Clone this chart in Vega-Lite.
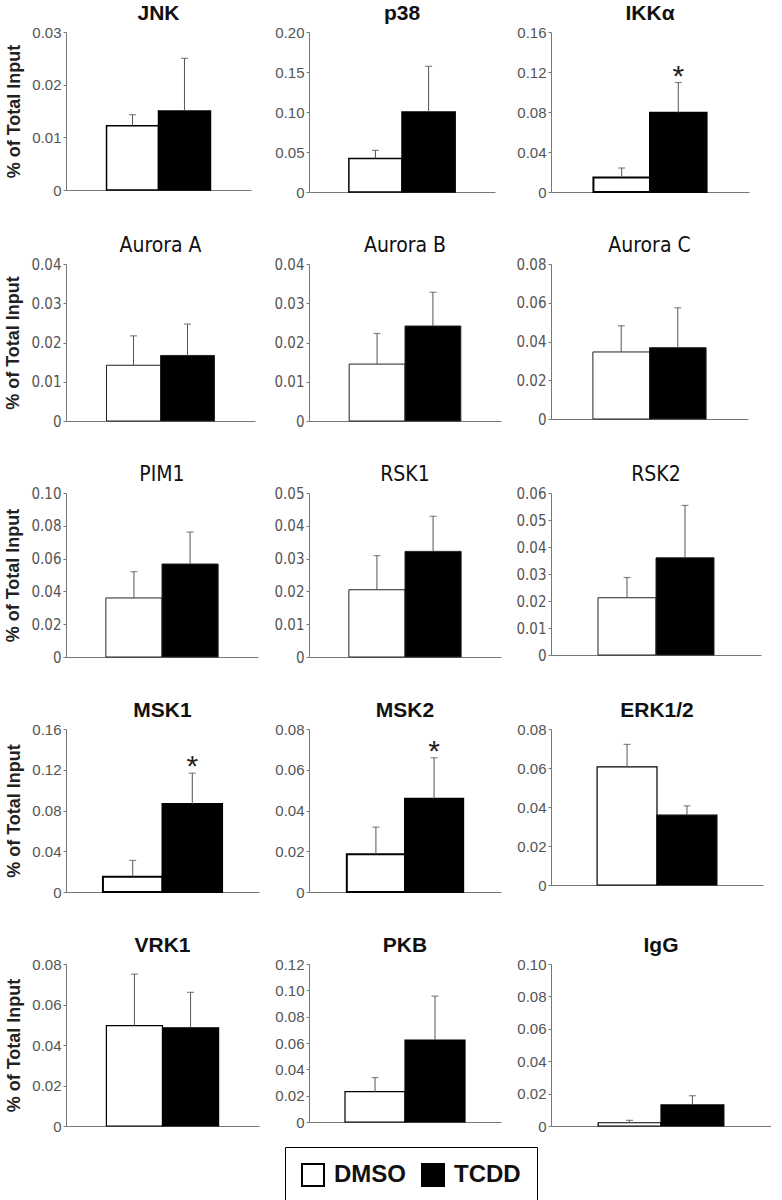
{
  "$schema": "https://vega.github.io/schema/vega-lite/v6.json",
  "background": "white",
  "padding": {"left": 4, "top": 3, "right": 0, "bottom": 0},
  "bounds": "flush",
  "columns": 3,
  "spacing": {"row": 72, "column": 50},
  "data": {"values": [
    {"panel": "JNK", "group": "DMSO", "value": 0.0122, "err": 0.0143, "sig": false},
    {"panel": "JNK", "group": "TCDD", "value": 0.0150, "err": 0.0250, "sig": false},
    {"panel": "p38", "group": "DMSO", "value": 0.042, "err": 0.052, "sig": false},
    {"panel": "p38", "group": "TCDD", "value": 0.100, "err": 0.157, "sig": false},
    {"panel": "IKKα", "group": "DMSO", "value": 0.0144, "err": 0.024, "sig": false},
    {"panel": "IKKα", "group": "TCDD", "value": 0.0793, "err": 0.1095, "sig": true},
    {"panel": "Aurora A", "group": "DMSO", "value": 0.0142, "err": 0.0217, "sig": false},
    {"panel": "Aurora A", "group": "TCDD", "value": 0.0167, "err": 0.0247, "sig": false},
    {"panel": "Aurora B", "group": "DMSO", "value": 0.0145, "err": 0.0223, "sig": false},
    {"panel": "Aurora B", "group": "TCDD", "value": 0.0242, "err": 0.0328, "sig": false},
    {"panel": "Aurora C", "group": "DMSO", "value": 0.0346, "err": 0.0481, "sig": false},
    {"panel": "Aurora C", "group": "TCDD", "value": 0.0368, "err": 0.0574, "sig": false},
    {"panel": "PIM1", "group": "DMSO", "value": 0.036, "err": 0.052, "sig": false},
    {"panel": "PIM1", "group": "TCDD", "value": 0.0567, "err": 0.0762, "sig": false},
    {"panel": "RSK1", "group": "DMSO", "value": 0.0205, "err": 0.0309, "sig": false},
    {"panel": "RSK1", "group": "TCDD", "value": 0.0322, "err": 0.0429, "sig": false},
    {"panel": "RSK2", "group": "DMSO", "value": 0.0212, "err": 0.0287, "sig": false},
    {"panel": "RSK2", "group": "TCDD", "value": 0.036, "err": 0.0554, "sig": false},
    {"panel": "MSK1", "group": "DMSO", "value": 0.015, "err": 0.031, "sig": false},
    {"panel": "MSK1", "group": "TCDD", "value": 0.0863, "err": 0.1167, "sig": true},
    {"panel": "MSK2", "group": "DMSO", "value": 0.0185, "err": 0.0318, "sig": false},
    {"panel": "MSK2", "group": "TCDD", "value": 0.0458, "err": 0.0659, "sig": true},
    {"panel": "ERK1/2", "group": "DMSO", "value": 0.0606, "err": 0.0721, "sig": false},
    {"panel": "ERK1/2", "group": "TCDD", "value": 0.0358, "err": 0.0406, "sig": false},
    {"panel": "VRK1", "group": "DMSO", "value": 0.0496, "err": 0.075, "sig": false},
    {"panel": "VRK1", "group": "TCDD", "value": 0.0485, "err": 0.066, "sig": false},
    {"panel": "PKB", "group": "DMSO", "value": 0.0231, "err": 0.0337, "sig": false},
    {"panel": "PKB", "group": "TCDD", "value": 0.0622, "err": 0.0956, "sig": false},
    {"panel": "IgG", "group": "DMSO", "value": 0.002, "err": 0.0035, "sig": false},
    {"panel": "IgG", "group": "TCDD", "value": 0.013, "err": 0.0187, "sig": false}
  ]},
  "concat": [
      {"title": "JNK", "width": 185, "height": 158, "transform": [{"filter": "datum.panel == 'JNK'"}],
       "encoding": {"x": {"field": "group", "type": "nominal", "scale": {"paddingOuter": 0.78, "paddingInner": 0}, "axis": {"labels": false, "ticks": false, "title": null}}},
       "layer": [
        {"mark": {"type": "bar", "stroke": "black", "strokeWidth": 1.5}, "encoding": {"y": {"field": "value", "type": "quantitative", "scale": {"domain": [0, 0.03], "nice": false}, "axis": {"values": [0, 0.01, 0.02, 0.03], "labelOverlap": false, "tickCount": 20, "title": "% of Total Input"}}, "fill": {"field": "group", "type": "nominal", "scale": {"domain": ["DMSO", "TCDD"], "range": ["white", "black"]}, "legend": {"title": null}}}},
        {"mark": {"type": "rule", "color": "#555"}, "encoding": {"y": {"field": "value", "type": "quantitative"}, "y2": {"field": "err"}}},
        {"mark": {"type": "tick", "color": "#555", "size": 7, "thickness": 1.2}, "encoding": {"y": {"field": "err", "type": "quantitative"}}}
       ]},
      {"title": "p38", "width": 186, "height": 160, "transform": [{"filter": "datum.panel == 'p38'"}],
       "encoding": {"x": {"field": "group", "type": "nominal", "scale": {"paddingOuter": 0.75, "paddingInner": 0}, "axis": {"labels": false, "ticks": false, "title": null}}},
       "layer": [
        {"mark": {"type": "bar", "stroke": "black", "strokeWidth": 1.5}, "encoding": {"y": {"field": "value", "type": "quantitative", "scale": {"domain": [0, 0.2], "nice": false}, "axis": {"values": [0, 0.05, 0.1, 0.15, 0.2], "labelOverlap": false, "tickCount": 20, "title": null}}, "fill": {"field": "group", "type": "nominal", "legend": {"title": null}}}},
        {"mark": {"type": "rule", "color": "#555"}, "encoding": {"y": {"field": "value", "type": "quantitative"}, "y2": {"field": "err"}}},
        {"mark": {"type": "tick", "color": "#555", "size": 7, "thickness": 1.2}, "encoding": {"y": {"field": "err", "type": "quantitative"}}}
       ]},
      {"title": "IKKα", "width": 198, "height": 160, "transform": [{"filter": "datum.panel == 'IKKα'"}],
       "encoding": {"x": {"field": "group", "type": "nominal", "scale": {"paddingOuter": 0.75, "paddingInner": 0}, "axis": {"labels": false, "ticks": false, "title": null}}},
       "layer": [
        {"mark": {"type": "bar", "stroke": "black", "strokeWidth": 2}, "encoding": {"y": {"field": "value", "type": "quantitative", "scale": {"domain": [0, 0.16], "nice": false}, "axis": {"values": [0, 0.04, 0.08, 0.12, 0.16], "labelOverlap": false, "tickCount": 20, "title": null}}, "fill": {"field": "group", "type": "nominal", "legend": {"title": null}}}},
        {"mark": {"type": "rule", "color": "#555"}, "encoding": {"y": {"field": "value", "type": "quantitative"}, "y2": {"field": "err"}}},
        {"mark": {"type": "tick", "color": "#555", "size": 7, "thickness": 1.2}, "encoding": {"y": {"field": "err", "type": "quantitative"}}},
        {"transform": [{"filter": "datum.sig"}], "mark": {"type": "text", "text": "*", "fontSize": 30, "baseline": "alphabetic", "dy": 3, "color": "#222"}, "encoding": {"y": {"field": "err", "type": "quantitative"}}}
       ]},
      {"title": {"text": "Aurora A", "font": "DejaVu Sans Condensed", "fontWeight": "normal", "fontSize": 21}, "width": 189, "height": 157, "transform": [{"filter": "datum.panel == 'Aurora A'"}],
       "encoding": {"x": {"field": "group", "type": "nominal", "scale": {"paddingOuter": 0.75, "paddingInner": 0}, "axis": {"labels": false, "ticks": false, "title": null}}},
       "layer": [
        {"mark": {"type": "bar", "stroke": "#222", "strokeWidth": 1}, "encoding": {"y": {"field": "value", "type": "quantitative", "scale": {"domain": [0, 0.04], "nice": false}, "axis": {"values": [0, 0.01, 0.02, 0.03, 0.04], "labelOverlap": false, "tickCount": 20, "title": "% of Total Input", "labelFont": "DejaVu Sans Condensed", "labelFontSize": 15}}, "fill": {"field": "group", "type": "nominal", "legend": {"title": null}}}},
        {"mark": {"type": "rule", "color": "#555"}, "encoding": {"y": {"field": "value", "type": "quantitative"}, "y2": {"field": "err"}}},
        {"mark": {"type": "tick", "color": "#555", "size": 7, "thickness": 1.2}, "encoding": {"y": {"field": "err", "type": "quantitative"}}}
       ]},
      {"title": {"text": "Aurora B", "font": "DejaVu Sans Condensed", "fontWeight": "normal", "fontSize": 21}, "width": 192, "height": 157, "transform": [{"filter": "datum.panel == 'Aurora B'"}],
       "encoding": {"x": {"field": "group", "type": "nominal", "scale": {"paddingOuter": 0.72, "paddingInner": 0}, "axis": {"labels": false, "ticks": false, "title": null}}},
       "layer": [
        {"mark": {"type": "bar", "stroke": "#222", "strokeWidth": 1}, "encoding": {"y": {"field": "value", "type": "quantitative", "scale": {"domain": [0, 0.04], "nice": false}, "axis": {"values": [0, 0.01, 0.02, 0.03, 0.04], "labelOverlap": false, "tickCount": 20, "title": null, "labelFont": "DejaVu Sans Condensed", "labelFontSize": 15}}, "fill": {"field": "group", "type": "nominal", "legend": {"title": null}}}},
        {"mark": {"type": "rule", "color": "#555"}, "encoding": {"y": {"field": "value", "type": "quantitative"}, "y2": {"field": "err"}}},
        {"mark": {"type": "tick", "color": "#555", "size": 7, "thickness": 1.2}, "encoding": {"y": {"field": "err", "type": "quantitative"}}}
       ]},
      {"title": {"text": "Aurora C", "font": "DejaVu Sans Condensed", "fontWeight": "normal", "fontSize": 21}, "width": 197, "height": 155, "transform": [{"filter": "datum.panel == 'Aurora C'"}],
       "encoding": {"x": {"field": "group", "type": "nominal", "scale": {"paddingOuter": 0.74, "paddingInner": 0}, "axis": {"labels": false, "ticks": false, "title": null}}},
       "layer": [
        {"mark": {"type": "bar", "stroke": "#222", "strokeWidth": 1}, "encoding": {"y": {"field": "value", "type": "quantitative", "scale": {"domain": [0, 0.08], "nice": false}, "axis": {"values": [0, 0.02, 0.04, 0.06, 0.08], "labelOverlap": false, "tickCount": 20, "title": null, "labelFont": "DejaVu Sans Condensed", "labelFontSize": 15}}, "fill": {"field": "group", "type": "nominal", "legend": {"title": null}}}},
        {"mark": {"type": "rule", "color": "#555"}, "encoding": {"y": {"field": "value", "type": "quantitative"}, "y2": {"field": "err"}}},
        {"mark": {"type": "tick", "color": "#555", "size": 7, "thickness": 1.2}, "encoding": {"y": {"field": "err", "type": "quantitative"}}}
       ]},
      {"title": {"text": "PIM1", "font": "DejaVu Sans Condensed", "fontWeight": "normal", "fontSize": 21}, "width": 192, "height": 164, "transform": [{"filter": "datum.panel == 'PIM1'"}],
       "encoding": {"x": {"field": "group", "type": "nominal", "scale": {"paddingOuter": 0.71, "paddingInner": 0}, "axis": {"labels": false, "ticks": false, "title": null}}},
       "layer": [
        {"mark": {"type": "bar", "stroke": "#222", "strokeWidth": 1}, "encoding": {"y": {"field": "value", "type": "quantitative", "scale": {"domain": [0, 0.1], "nice": false}, "axis": {"values": [0, 0.02, 0.04, 0.06, 0.08, 0.1], "labelOverlap": false, "tickCount": 20, "title": "% of Total Input", "labelFont": "DejaVu Sans Condensed", "labelFontSize": 15}}, "fill": {"field": "group", "type": "nominal", "legend": {"title": null}}}},
        {"mark": {"type": "rule", "color": "#555"}, "encoding": {"y": {"field": "value", "type": "quantitative"}, "y2": {"field": "err"}}},
        {"mark": {"type": "tick", "color": "#555", "size": 7, "thickness": 1.2}, "encoding": {"y": {"field": "err", "type": "quantitative"}}}
       ]},
      {"title": {"text": "RSK1", "font": "DejaVu Sans Condensed", "fontWeight": "normal", "fontSize": 21}, "width": 192, "height": 164, "transform": [{"filter": "datum.panel == 'RSK1'"}],
       "encoding": {"x": {"field": "group", "type": "nominal", "scale": {"paddingOuter": 0.71, "paddingInner": 0}, "axis": {"labels": false, "ticks": false, "title": null}}},
       "layer": [
        {"mark": {"type": "bar", "stroke": "#222", "strokeWidth": 1}, "encoding": {"y": {"field": "value", "type": "quantitative", "scale": {"domain": [0, 0.05], "nice": false}, "axis": {"values": [0, 0.01, 0.02, 0.03, 0.04, 0.05], "labelOverlap": false, "tickCount": 20, "title": null, "labelFont": "DejaVu Sans Condensed", "labelFontSize": 15}}, "fill": {"field": "group", "type": "nominal", "legend": {"title": null}}}},
        {"mark": {"type": "rule", "color": "#555"}, "encoding": {"y": {"field": "value", "type": "quantitative"}, "y2": {"field": "err"}}},
        {"mark": {"type": "tick", "color": "#555", "size": 7, "thickness": 1.2}, "encoding": {"y": {"field": "err", "type": "quantitative"}}}
       ]},
      {"title": {"text": "RSK2", "font": "DejaVu Sans Condensed", "fontWeight": "normal", "fontSize": 21}, "width": 210, "height": 162, "transform": [{"filter": "datum.panel == 'RSK2'"}],
       "encoding": {"x": {"field": "group", "type": "nominal", "scale": {"paddingOuter": 0.81, "paddingInner": 0}, "axis": {"labels": false, "ticks": false, "title": null}}},
       "layer": [
        {"mark": {"type": "bar", "stroke": "#222", "strokeWidth": 1}, "encoding": {"y": {"field": "value", "type": "quantitative", "scale": {"domain": [0, 0.06], "nice": false}, "axis": {"values": [0, 0.01, 0.02, 0.03, 0.04, 0.05, 0.06], "labelOverlap": false, "tickCount": 20, "title": null, "labelFont": "DejaVu Sans Condensed", "labelFontSize": 15}}, "fill": {"field": "group", "type": "nominal", "legend": {"title": null}}}},
        {"mark": {"type": "rule", "color": "#555"}, "encoding": {"y": {"field": "value", "type": "quantitative"}, "y2": {"field": "err"}}},
        {"mark": {"type": "tick", "color": "#555", "size": 7, "thickness": 1.2}, "encoding": {"y": {"field": "err", "type": "quantitative"}}}
       ]},
      {"title": "MSK1", "width": 193, "height": 163, "transform": [{"filter": "datum.panel == 'MSK1'"}],
       "encoding": {"x": {"field": "group", "type": "nominal", "scale": {"paddingOuter": 0.62, "paddingInner": 0}, "axis": {"labels": false, "ticks": false, "title": null}}},
       "layer": [
        {"mark": {"type": "bar", "stroke": "black", "strokeWidth": 2}, "encoding": {"y": {"field": "value", "type": "quantitative", "scale": {"domain": [0, 0.16], "nice": false}, "axis": {"values": [0, 0.04, 0.08, 0.12, 0.16], "labelOverlap": false, "tickCount": 20, "title": "% of Total Input"}}, "fill": {"field": "group", "type": "nominal", "legend": {"title": null}}}},
        {"mark": {"type": "rule", "color": "#555"}, "encoding": {"y": {"field": "value", "type": "quantitative"}, "y2": {"field": "err"}}},
        {"mark": {"type": "tick", "color": "#555", "size": 7, "thickness": 1.2}, "encoding": {"y": {"field": "err", "type": "quantitative"}}},
        {"transform": [{"filter": "datum.sig"}], "mark": {"type": "text", "text": "*", "fontSize": 30, "baseline": "alphabetic", "dy": 3, "color": "#222"}, "encoding": {"y": {"field": "err", "type": "quantitative"}}}
       ]},
      {"title": "MSK2", "width": 192, "height": 163, "transform": [{"filter": "datum.panel == 'MSK2'"}],
       "encoding": {"x": {"field": "group", "type": "nominal", "scale": {"paddingOuter": 0.65, "paddingInner": 0}, "axis": {"labels": false, "ticks": false, "title": null}}},
       "layer": [
        {"mark": {"type": "bar", "stroke": "black", "strokeWidth": 2}, "encoding": {"y": {"field": "value", "type": "quantitative", "scale": {"domain": [0, 0.08], "nice": false}, "axis": {"values": [0, 0.02, 0.04, 0.06, 0.08], "labelOverlap": false, "tickCount": 20, "title": null}}, "fill": {"field": "group", "type": "nominal", "legend": {"title": null}}}},
        {"mark": {"type": "rule", "color": "#555"}, "encoding": {"y": {"field": "value", "type": "quantitative"}, "y2": {"field": "err"}}},
        {"mark": {"type": "tick", "color": "#555", "size": 7, "thickness": 1.2}, "encoding": {"y": {"field": "err", "type": "quantitative"}}},
        {"transform": [{"filter": "datum.sig"}], "mark": {"type": "text", "text": "*", "fontSize": 30, "baseline": "alphabetic", "dy": 3, "color": "#222"}, "encoding": {"y": {"field": "err", "type": "quantitative"}}}
       ]},
      {"title": "ERK1/2", "width": 212, "height": 156, "transform": [{"filter": "datum.panel == 'ERK1/2'"}],
       "encoding": {"x": {"field": "group", "type": "nominal", "scale": {"paddingOuter": 0.77, "paddingInner": 0}, "axis": {"labels": false, "ticks": false, "title": null}}},
       "layer": [
        {"mark": {"type": "bar", "stroke": "black", "strokeWidth": 1.2}, "encoding": {"y": {"field": "value", "type": "quantitative", "scale": {"domain": [0, 0.08], "nice": false}, "axis": {"values": [0, 0.02, 0.04, 0.06, 0.08], "labelOverlap": false, "tickCount": 20, "title": null}}, "fill": {"field": "group", "type": "nominal", "legend": {"title": null}}}},
        {"mark": {"type": "rule", "color": "#555"}, "encoding": {"y": {"field": "value", "type": "quantitative"}, "y2": {"field": "err"}}},
        {"mark": {"type": "tick", "color": "#555", "size": 7, "thickness": 1.2}, "encoding": {"y": {"field": "err", "type": "quantitative"}}}
       ]},
      {"title": "VRK1", "width": 193, "height": 162, "transform": [{"filter": "datum.panel == 'VRK1'"}],
       "encoding": {"x": {"field": "group", "type": "nominal", "scale": {"paddingOuter": 0.72, "paddingInner": 0}, "axis": {"labels": false, "ticks": false, "title": null}}},
       "layer": [
        {"mark": {"type": "bar", "stroke": "black", "strokeWidth": 1.2}, "encoding": {"y": {"field": "value", "type": "quantitative", "scale": {"domain": [0, 0.08], "nice": false}, "axis": {"values": [0, 0.02, 0.04, 0.06, 0.08], "labelOverlap": false, "tickCount": 20, "title": "% of Total Input"}}, "fill": {"field": "group", "type": "nominal", "legend": {"title": null}}}},
        {"mark": {"type": "rule", "color": "#555"}, "encoding": {"y": {"field": "value", "type": "quantitative"}, "y2": {"field": "err"}}},
        {"mark": {"type": "tick", "color": "#555", "size": 7, "thickness": 1.2}, "encoding": {"y": {"field": "err", "type": "quantitative"}}}
       ]},
      {"title": "PKB", "width": 192, "height": 158, "transform": [{"filter": "datum.panel == 'PKB'"}],
       "encoding": {"x": {"field": "group", "type": "nominal", "scale": {"paddingOuter": 0.6, "paddingInner": 0}, "axis": {"labels": false, "ticks": false, "title": null}}},
       "layer": [
        {"mark": {"type": "bar", "stroke": "black", "strokeWidth": 1.2}, "encoding": {"y": {"field": "value", "type": "quantitative", "scale": {"domain": [0, 0.12], "nice": false}, "axis": {"values": [0, 0.02, 0.04, 0.06, 0.08, 0.1, 0.12], "labelOverlap": false, "tickCount": 20, "title": null}}, "fill": {"field": "group", "type": "nominal", "legend": {"title": null}}}},
        {"mark": {"type": "rule", "color": "#555"}, "encoding": {"y": {"field": "value", "type": "quantitative"}, "y2": {"field": "err"}}},
        {"mark": {"type": "tick", "color": "#555", "size": 7, "thickness": 1.2}, "encoding": {"y": {"field": "err", "type": "quantitative"}}}
       ]},
      {"title": "IgG", "width": 220, "height": 162, "transform": [{"filter": "datum.panel == 'IgG'"}],
       "encoding": {"x": {"field": "group", "type": "nominal", "scale": {"paddingOuter": 0.75, "paddingInner": 0}, "axis": {"labels": false, "ticks": false, "title": null}}},
       "layer": [
        {"mark": {"type": "bar", "stroke": "black", "strokeWidth": 1.2}, "encoding": {"y": {"field": "value", "type": "quantitative", "scale": {"domain": [0, 0.1], "nice": false}, "axis": {"values": [0, 0.02, 0.04, 0.06, 0.08, 0.1], "labelOverlap": false, "tickCount": 20, "title": null}}, "fill": {"field": "group", "type": "nominal", "legend": {"title": null}}}},
        {"mark": {"type": "rule", "color": "#555"}, "encoding": {"y": {"field": "value", "type": "quantitative"}, "y2": {"field": "err"}}},
        {"mark": {"type": "tick", "color": "#555", "size": 7, "thickness": 1.2}, "encoding": {"y": {"field": "err", "type": "quantitative"}}}
       ]}
  ],
  "config": {
    "view": {"stroke": null},
    "font": "Liberation Sans",
    "axisY": {"grid": false, "labelColor": "#555", "labelFontSize": 15, "labelOverlap": false, "domainColor": "#777", "tickColor": "#777", "tickSize": 3, "labelPadding": 2, "titleFontSize": 18, "titleFontWeight": "bold", "titleColor": "#222", "titlePadding": 8, "labelExpr": "datum.value == 0 ? '0' : format(datum.value, '.2f')"},
    "axisX": {"domainColor": "#777"},
    "title": {"fontSize": 21, "fontWeight": "bold", "color": "#111", "frame": "group", "offset": 1},
    "legend": {"orient": "none", "legendX": 219, "legendY": 1115, "direction": "horizontal", "strokeColor": "black", "padding": 16, "symbolType": "square", "symbolSize": 484, "symbolStrokeColor": "black", "symbolStrokeWidth": 2, "labelFontSize": 24, "labelFontWeight": "bold", "labelColor": "#111", "columnPadding": 12, "labelOffset": 9}
  }
}
